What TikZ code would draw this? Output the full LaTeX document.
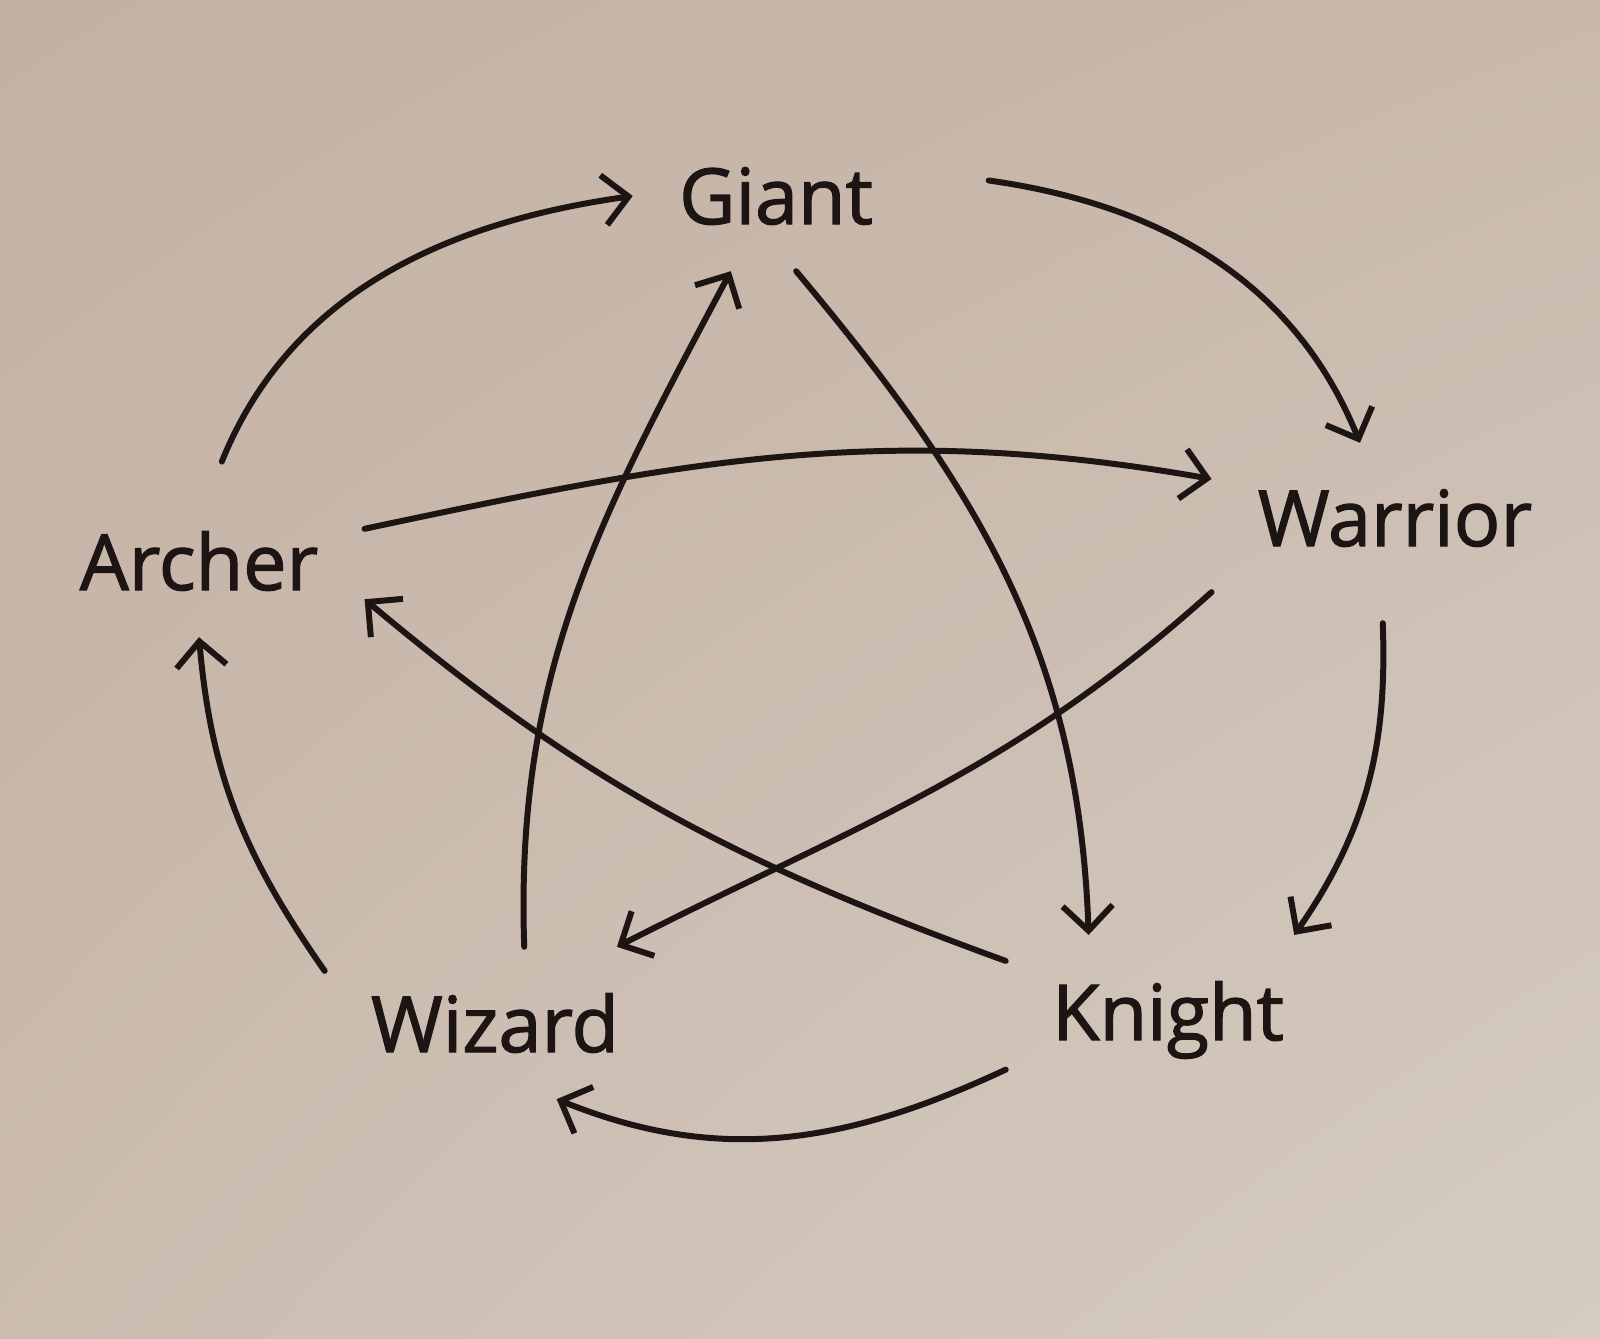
\documentclass[tikz,border=0pt]{standalone}
\usepackage{fontspec}
\newfontfamily\handfont[FakeBold=1.6]{Open Sans}
\usetikzlibrary{arrows.meta,shadings}
\definecolor{paperdark}{HTML}{C3B1A3}
\definecolor{paperlight}{HTML}{D6CCC2}
\definecolor{ink}{HTML}{1C1513}
\begin{document}
\begin{tikzpicture}[x=0.01cm,y=0.01cm,
    creature/.style={font=\handfont\fontsize{22}{26}\selectfont, text=ink, inner sep=13pt},
    beats/.style={->, draw=ink, line width=1.7pt, line cap=round},
    >={Straight Barb[length=2.5mm,width=5mm]}]
    % Paper
    \shade[upper left=paperdark, upper right=paperdark!70!paperlight,
           lower left=paperdark!60!paperlight, lower right=paperlight]
        (0,0) rectangle (1600,1338);

    % Nodes
    \node [creature] (giant)   at (776,1142) {Giant};
    \node [creature] (warrior) at (1395,820) {Warrior};
    \node [creature] (knight)  at (1168,318) {Knight};
    \node [creature] (wizard)  at (495,315)  {Wizard};
    \node [creature] (archer)  at (199,777)  {Archer};

    % Outer arrows
    \draw [beats, shorten <=2.5mm] (archer.80) to[out=68,in=188] (giant.west);
    \draw [beats, shorten <=7mm] (giant.10) to[out=-8,in=112] (warrior.115);
    \draw [beats, shorten <=3mm] (warrior.-100) to[out=-88,in=55] (knight.34);
    \draw [beats] (knight.197) to[out=-155,in=-22] (wizard.-51);
    \draw [beats] (wizard.163) to[out=125,in=-85] (archer.south);

    % Inner arrows
    \draw [beats] (archer.11) to[out=12,in=170] (warrior.168);
    \draw [beats] (giant.-75) to[out=-50,in=92] (knight.133);
    \draw [beats] (warrior.202) to[out=-138,in=27] (wizard.32);
    \draw [beats] (knight.160) to[out=160,in=-40] (archer.-13);
    \draw [beats] (wizard.69) to[out=92,in=-118] (giant.-121);
\end{tikzpicture}
\end{document}
